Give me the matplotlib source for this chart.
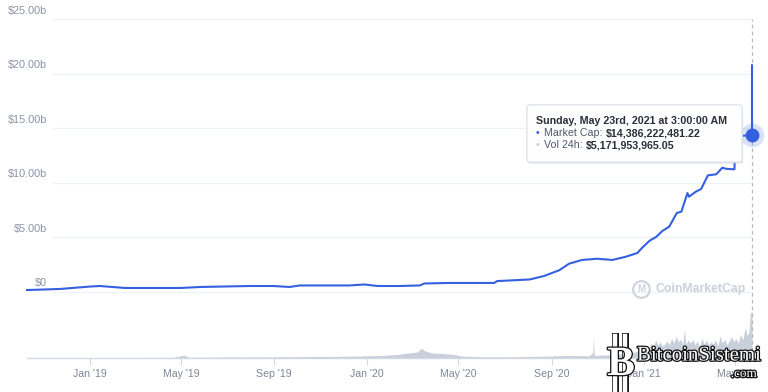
import numpy as np
import pandas as pd
import matplotlib
matplotlib.use("Agg")
import matplotlib.pyplot as plt
import matplotlib.patheffects as pe
from matplotlib.patches import FancyBboxPatch
from matplotlib.lines import Line2D

plt.rcParams['font.family'] = ['Liberation Sans', 'DejaVu Sans']

# market cap (in $ billions)
cap_dates = ['2018-10-10', '2018-11-23', '2019-01-01', '2019-01-14', '2019-02-16',
             '2019-05-01', '2019-05-26', '2019-07-31', '2019-08-31', '2019-09-21',
             '2019-10-05', '2019-12-09', '2019-12-29', '2020-01-15', '2020-02-13',
             '2020-03-11', '2020-03-17', '2020-04-19', '2020-06-17', '2020-06-21',
             '2020-08-03', '2020-08-22', '2020-09-11', '2020-09-24', '2020-10-11',
             '2020-10-31', '2020-11-20', '2020-12-08', '2020-12-23', '2020-12-29',
             '2021-01-08', '2021-01-17', '2021-01-25', '2021-02-03', '2021-02-13',
             '2021-02-19', '2021-02-27', '2021-03-01', '2021-03-10', '2021-03-17',
             '2021-03-26', '2021-04-06', '2021-04-14', '2021-04-19', '2021-04-28',
             '2021-04-30', '2021-05-01', '2021-05-23 03:00', '2021-05-23 03:00']
cap_values = [0.18, 0.28, 0.50, 0.55, 0.37,
              0.37, 0.46, 0.55, 0.55, 0.46,
              0.60, 0.60, 0.69, 0.55, 0.55,
              0.60, 0.78, 0.83, 0.83, 1.00,
              1.15, 1.47, 2.00, 2.60, 2.94,
              3.05, 2.94, 3.24, 3.58, 4.04,
              4.70, 5.07, 5.60, 6.00, 7.25,
              7.37, 9.08, 8.74, 9.20, 9.45,
              10.70, 10.80, 11.40, 11.30, 11.26,
              11.26, 14.30, 14.386, 20.80]

# 24h volume (in $ billions)
vol_dates = ['2018-10-10', '2018-12-01', '2019-02-01', '2019-04-20', '2019-05-06',
             '2019-05-10', '2019-05-15', '2019-07-01', '2019-09-01', '2019-10-15',
             '2019-11-15', '2019-12-20', '2020-01-20', '2020-02-10', '2020-02-25',
             '2020-03-08', '2020-03-13', '2020-03-18', '2020-03-28', '2020-04-10',
             '2020-04-25', '2020-05-05', '2020-06-01', '2020-07-01', '2020-08-01',
             '2020-09-01', '2020-09-20', '2020-10-20', '2020-10-25', '2020-10-26',
             '2020-10-27', '2020-11-10', '2020-12-01', '2020-12-20',
             '2021-01-01', '2021-01-04', '2021-01-07', '2021-01-10', '2021-01-13',
             '2021-01-16', '2021-01-19', '2021-01-22', '2021-01-25', '2021-01-28',
             '2021-01-31', '2021-02-03', '2021-02-06', '2021-02-09', '2021-02-12',
             '2021-02-15', '2021-02-18', '2021-02-21', '2021-02-23', '2021-02-25',
             '2021-02-28', '2021-03-03', '2021-03-06', '2021-03-09', '2021-03-12',
             '2021-03-15', '2021-03-18', '2021-03-21', '2021-03-24', '2021-03-27',
             '2021-03-30', '2021-04-02', '2021-04-05', '2021-04-08', '2021-04-11',
             '2021-04-14', '2021-04-17', '2021-04-20', '2021-04-23', '2021-04-26',
             '2021-04-29', '2021-05-02', '2021-05-05', '2021-05-08', '2021-05-11',
             '2021-05-14', '2021-05-17', '2021-05-19', '2021-05-21', '2021-05-23 03:00']
vol_values = [0.03, 0.04, 0.06, 0.07, 0.33,
              0.10, 0.09, 0.11, 0.13, 0.17,
              0.17, 0.22, 0.28, 0.39, 0.55,
              0.67, 1.10, 0.78, 0.55, 0.50,
              0.39, 0.22, 0.13, 0.13, 0.17,
              0.22, 0.28, 0.25, 0.60, 2.35,
              0.30, 0.33, 0.45, 0.67,
              0.90, 1.30, 1.10, 1.65, 1.20,
              2.00, 1.45, 1.80, 1.30, 1.55,
              1.90, 1.45, 2.20, 1.65, 2.45,
              1.80, 2.10, 1.60, 3.20, 1.55,
              2.00, 1.65, 2.10, 1.45, 1.90,
              1.30, 2.20, 1.55, 2.00, 1.45,
              1.80, 1.55, 2.00, 1.30, 2.45,
              1.65, 2.10, 1.45, 1.90, 2.35,
              1.80, 2.20, 1.65, 2.65, 2.00,
              3.35, 2.45, 2.90, 5.00, 5.17]

tick_dates = ['2019-01-01', '2019-05-01', '2019-09-01', '2020-01-01',
              '2020-05-01', '2020-09-01', '2021-01-01', '2021-05-01']
tick_labels = ["Jan '19", "May '19", "Sep '19", "Jan '20",
               "May '20", "Sep '20", "Jan '21", "May '21"]
grid_values = [0, 5, 10, 15, 20, 25]
grid_labels = ['$0', '$5.00b', '$10.00b', '$15.00b', '$20.00b', '$25.00b']

cap_x = pd.to_datetime(cap_dates, format='ISO8601')
vol_x = pd.to_datetime(vol_dates, format='ISO8601')
ticks_x = pd.to_datetime(tick_dates, format='ISO8601')

W, H = 768, 392
fig = plt.figure(figsize=(W / 100, H / 100), dpi=100)

def fx(x):
    return x / W

def fy(y):
    return 1 - y / H

ax_l, ax_r, ax_t, ax_b = 27, 752, 10, 358
ax = fig.add_axes([fx(ax_l), fy(ax_b), (ax_r - ax_l) / W, (ax_b - ax_t) / H])
axv = ax.twinx()
ax.set_zorder(axv.get_zorder() + 1)
ax.patch.set_visible(False)

ymin, ymax = -6.055, 25.87
ax.set_xlim(pd.Timestamp('2018-10-10'), pd.Timestamp('2021-05-23 03:00'))
ax.set_ylim(ymin, ymax)
axv.set_ylim(0, 38.67)

for a in (ax, axv):
    for s in a.spines.values():
        s.set_visible(False)
    a.set_yticks([])

# volume area
axv.fill_between(vol_x, 0, vol_values, color='#c5cbd8', lw=0, alpha=0.9)

# grid lines and labels
gx0 = (53 - ax_l) / (ax_r - ax_l)
for v, lab in zip(grid_values, grid_labels):
    ax.axhline(v, xmin=gx0, xmax=1, color='#eef1f5', lw=0.9, zorder=0)
    ax.annotate(lab, xy=(0, v), xycoords=('axes fraction', 'data'),
                xytext=(47 - ax_l, 3.5), textcoords='offset pixels',
                ha='right', va='bottom', fontsize=7.8, color='#8a93a5')

# bottom axis line and ticks
ax.axhline(ymin, color='#d3d9e3', lw=1.0, clip_on=False)
ax.set_xticks(ticks_x)
ax.set_xticklabels(tick_labels)
ax.tick_params(axis='x', length=5, width=0.8, color='#d3d9e3',
               labelsize=7.6, labelcolor='#7d8799', pad=3)

# dashed cursor line
ax.axvline(cap_x[-2], ymin=0, ymax=(25 - ymin) / (ymax - ymin),
           color='#b3bac6', lw=0.9, ls=(0, (3, 2.5)), zorder=3, clip_on=False)

# market cap line
ax.plot(cap_x, cap_values, color='#3561e0', lw=1.5, zorder=5,
        solid_joinstyle='round', clip_on=False)

# hover marker
ax.plot([cap_x[-2]], [cap_values[-2]], 'o', ms=17, color='#3561e0', alpha=0.18,
        mec='none', zorder=6, clip_on=False)
ax.plot([cap_x[-2]], [cap_values[-2]], 'o', ms=10, color='#3561e0',
        mec='none', zorder=7, clip_on=False)

# tooltip
box = FancyBboxPatch((fx(527), fy(162)), fx(742) - fx(527), fy(105) - fy(162),
                     boxstyle='round,pad=0,rounding_size=0.004',
                     transform=fig.transFigure, facecolor='white', alpha=0.93,
                     edgecolor='#dde2ea', lw=0.8, zorder=10,
                     path_effects=[pe.withSimplePatchShadow(offset=(0.8, -1.2),
                                                            shadow_rgbFace='#c9ced8',
                                                            alpha=0.5),
                                   pe.Normal()])
fig.add_artist(box)
fs = 7.7
fig.text(fx(536), fy(121.5), 'Sunday, May 23rd, 2021 at 3:00:00 AM',
         fontsize=fs, fontweight='bold', color='#2b2f3a', va='center', zorder=11)

renderer = fig.canvas.get_renderer()
rows = [('#3561e0', 'Market Cap:', '$14,386,222,481.22', 133.5),
        ('#c5cbd8', 'Vol 24h:', '$5,171,953,965.05', 145)]
for col, lab, val, yy in rows:
    fig.text(fx(536), fy(yy), '\u2022', fontsize=fs, color=col, va='center', zorder=11)
    t = fig.text(fx(544), fy(yy), lab, fontsize=fs, color='#50596b', va='center', zorder=11)
    x_end = t.get_window_extent(renderer).x1
    fig.text((x_end + 3) / W, fy(yy), val, fontsize=fs, fontweight='bold',
             color='#2b2f3a', va='center', zorder=11)

# CoinMarketCap watermark
fig.add_artist(Line2D([fx(641)], [fy(289)], marker='o', ms=12, mfc='none',
                      mec='#cfd4dd', mew=1.6, transform=fig.transFigure))
fig.text(fx(641), fy(289.5), 'M', fontsize=7, fontweight='bold', color='#cfd4dd',
         ha='center', va='center')
fig.text(fx(656), fy(289), 'CoinMarketCap', fontsize=8.8, fontweight='bold',
         color='#cbd0d9', va='center')

# BitcoinSistemi watermark
outline = [pe.withStroke(linewidth=1.8, foreground='#111111')]
for bx in (615, 625):
    fig.add_artist(Line2D([fx(bx), fx(bx)], [fy(336), fy(392)], lw=3.2,
                          color='white', transform=fig.transFigure, zorder=19,
                          path_effects=[pe.Stroke(linewidth=5, foreground='#111111'),
                                        pe.Normal()]))
fig.text(fx(621), fy(365), 'B', fontsize=30, fontweight='bold', color='white',
         ha='center', va='center', family=['Liberation Serif'],
         path_effects=outline, zorder=20)
fig.text(fx(637), fy(356), 'BitcoinSistemi', fontsize=15, color='white',
         family=['Liberation Serif'], va='center', path_effects=outline, zorder=20)
fig.text(fx(757), fy(374), '.com', fontsize=9.5, color='white', ha='right',
         family=['Liberation Serif'], va='center', path_effects=outline, zorder=20)

fig.savefig('out.png', dpi=100)
